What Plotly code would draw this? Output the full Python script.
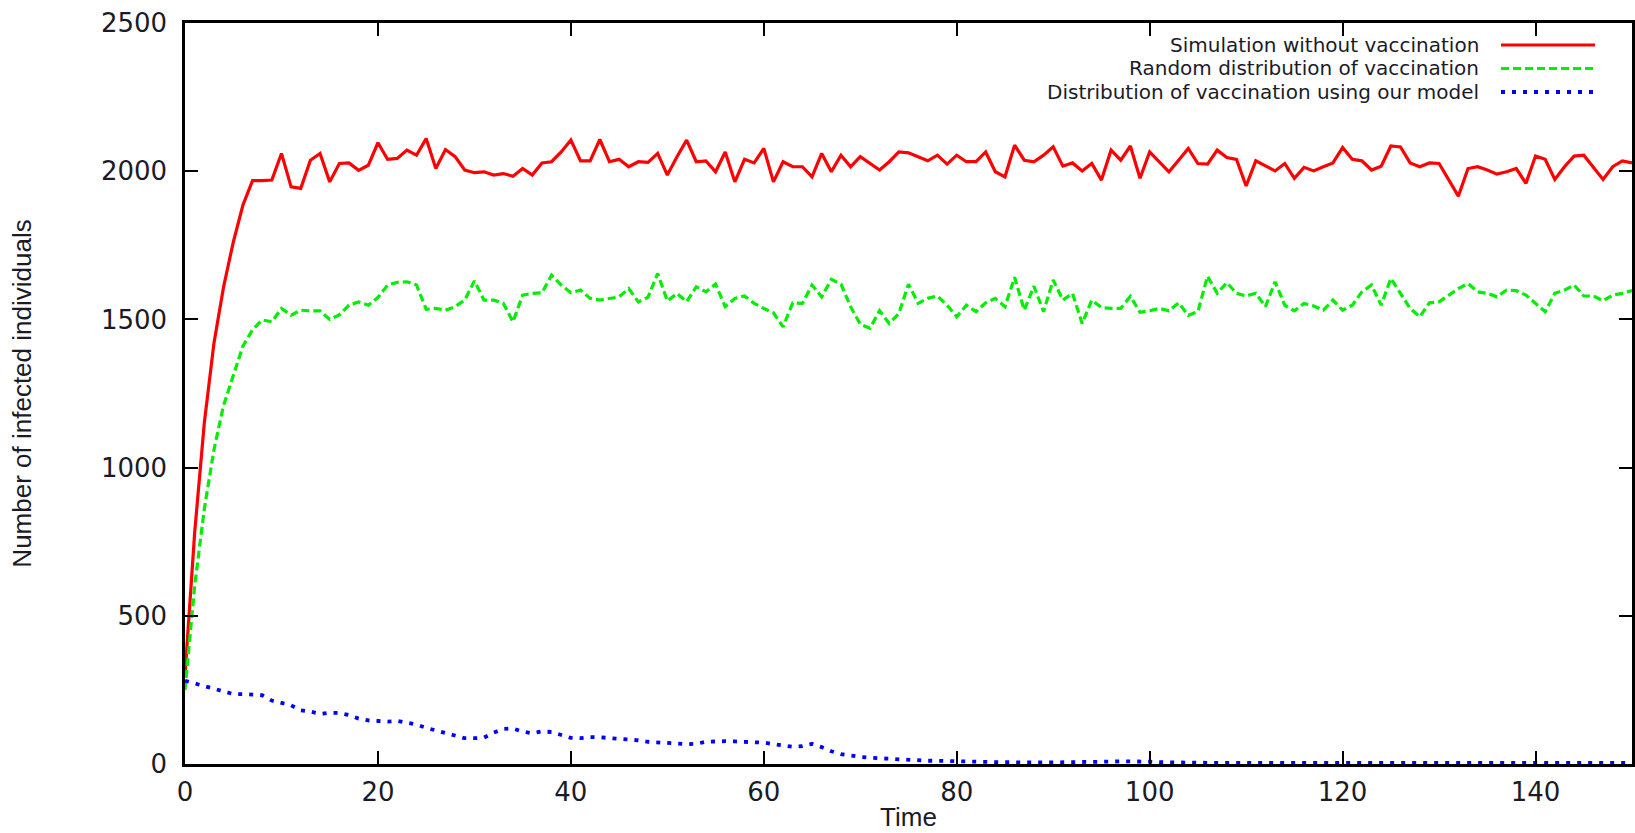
import plotly.graph_objects as go

# ---------------- data ----------------
time = list(range(0, 151))

no_vaccination = [
    300, 780, 1150, 1420, 1610, 1760, 1885, 1968, 1968, 1970,
    2060, 1947, 1942, 2037, 2060, 1964, 2026, 2028, 2003, 2020,
    2096, 2040, 2043, 2071, 2054, 2110, 2009, 2073, 2049, 2004,
    1995, 1998, 1987, 1992, 1983, 2009, 1987, 2028, 2032, 2065,
    2105, 2035, 2035, 2107, 2032, 2040, 2015, 2032, 2030, 2060,
    1987, 2049, 2105, 2032, 2035, 1998, 2065, 1964, 2040, 2028,
    2077, 1964, 2032, 2015, 2015, 1981, 2060, 1998, 2054, 2015,
    2049, 2026, 2004, 2032, 2065, 2062, 2049, 2035, 2054, 2024,
    2054, 2032, 2032, 2065, 1998, 1981, 2088, 2037, 2032, 2054,
    2082, 2017, 2028, 2001, 2026, 1970, 2071, 2037, 2085, 1976,
    2065, 2032, 1998, 2037, 2077, 2026, 2024, 2071, 2046, 2040,
    1950, 2035, 2017, 2001, 2026, 1976, 2013, 2001, 2015, 2028,
    2080, 2040, 2035, 2004, 2017, 2085, 2082, 2028, 2015, 2028,
    2026, 1970, 1916, 2009, 2015, 2004, 1990, 1998, 2009, 1959,
    2051, 2040, 1972, 2015, 2051, 2054, 2015, 1972, 2015, 2035,
    2028,
]

random_vaccination = [
    250, 600, 860, 1060, 1210, 1310, 1410, 1465, 1498, 1492,
    1537, 1514, 1531, 1529, 1529, 1500, 1515, 1548, 1559, 1548,
    1574, 1616, 1625, 1627, 1616, 1534, 1537, 1531, 1543, 1565,
    1630, 1565, 1565, 1554, 1492, 1582, 1588, 1590, 1649, 1616,
    1590, 1599, 1571, 1565, 1571, 1576, 1604, 1559, 1575, 1655,
    1562, 1588, 1560, 1610, 1593, 1619, 1543, 1571, 1579, 1554,
    1537, 1522, 1475, 1556, 1554, 1616, 1576, 1635, 1619, 1543,
    1484, 1470, 1529, 1486, 1520, 1619, 1554, 1571, 1579, 1548,
    1509, 1548, 1526, 1556, 1571, 1543, 1642, 1531, 1612, 1526,
    1633, 1565, 1588, 1486, 1565, 1540, 1537, 1537, 1578, 1524,
    1529, 1537, 1529, 1556, 1514, 1526, 1646, 1588, 1624, 1588,
    1579, 1588, 1543, 1627, 1548, 1529, 1554, 1545, 1531, 1565,
    1531, 1548, 1593, 1616, 1548, 1638, 1588, 1537, 1509, 1556,
    1559, 1582, 1604, 1621, 1593, 1588, 1576, 1599, 1597, 1582,
    1554, 1526, 1588, 1599, 1616, 1579, 1579, 1563, 1582, 1588,
    1597,
]

model_vaccination = [
    281, 272, 264, 255, 243, 236, 236, 235, 232, 214,
    205, 198, 181, 177, 169, 173, 172, 165, 153, 147,
    145, 143, 145, 138, 133, 122, 113, 104, 93, 87,
    87, 89, 106, 118, 120, 109, 104, 110, 108, 99,
    88, 87, 91, 90, 88, 85, 83, 80, 75, 74,
    70, 69, 67, 68, 75, 77, 77, 76, 75, 73,
    72, 67, 62, 58, 60, 68, 57, 43, 33, 27,
    24, 21, 19, 17, 15, 14, 12, 11, 11, 11,
    11, 9, 8, 7, 6, 5, 5, 5, 5, 5,
    5, 6, 6, 7, 7, 8, 8, 9, 9, 10,
    8, 6, 5, 5, 4, 4, 4, 4, 4, 4,
    4, 4, 4, 4, 4, 4, 4, 4, 4, 4,
    4, 4, 4, 4, 4, 4, 4, 4, 4, 4,
    4, 4, 4, 4, 4, 4, 4, 4, 4, 4,
    4, 4, 4, 4, 4, 4, 4, 4, 4, 4,
    4,
]

series_names = [
    "Simulation without vaccination",
    "Random distribution of vaccination",
    "Distribution of vaccination using our model",
]

x_ticks = [0, 20, 40, 60, 80, 100, 120, 140]
y_ticks = [0, 500, 1000, 1500, 2000, 2500]

# ---------------- styling ----------------
W, H = 1635, 833
ML, MR, MT, MB = 185, 3, 23, 69
PW, PH = W - ML - MR, H - MT - MB

colors = ["#ff0000", "#00ee00", "#0000ff"]
dashes = ["solid", "8px,4px", "4px,7px"]
widths = [3.2, 3.2, 3.8]
TXT = "#1b1b28"

fig = go.Figure()
for name, vals, c, d, w in zip(series_names,
                               [no_vaccination, random_vaccination, model_vaccination],
                               colors, dashes, widths):
    fig.add_trace(go.Scatter(x=time, y=vals, mode="lines", name=name,
                             line=dict(color=c, dash=d, width=w),
                             showlegend=False))


def px_x(p):
    return (p - ML) / PW


def px_y(p):
    return (H - MB - p) / PH


# gnuplot-style key: right-aligned text with the line sample on its right
legend_rows = [45, 68.5, 92]
for name, c, d, w, row in zip(series_names, colors, dashes, widths, legend_rows):
    fig.add_annotation(x=px_x(1480), y=px_y(row), xref="paper", yref="paper",
                       text=name, showarrow=False, xanchor="right", yanchor="middle",
                       borderpad=0,
                       font=dict(family="DejaVu Sans", size=20, color=TXT))
    fig.add_shape(type="line", xref="paper", yref="paper",
                  x0=px_x(1501), x1=px_x(1595), y0=px_y(row), y1=px_y(row),
                  line=dict(color=c, dash=d, width=w))

axis_common = dict(
    showline=True, linecolor="black", linewidth=2.5, mirror="ticks",
    ticks="inside", ticklen=13, tickwidth=2, tickcolor="black",
    showgrid=False, zeroline=False,
    tickfont=dict(family="DejaVu Sans", size=26, color=TXT),
)

fig.update_layout(
    width=W, height=H,
    margin=dict(l=ML, r=MR, t=MT, b=MB),
    paper_bgcolor="white", plot_bgcolor="white",
    xaxis=dict(range=[0, 150], tickvals=x_ticks, ticklabelstandoff=3,
               title=dict(text="Time", standoff=2,
                          font=dict(family="Liberation Sans", size=26, color=TXT)),
               automargin=False, **axis_common),
    yaxis=dict(range=[0, 2500], tickvals=y_ticks, ticklabelstandoff=10,
               title=dict(text="Number of infected individuals", standoff=62,
                          font=dict(family="Liberation Sans", size=26, color=TXT)),
               automargin=False, **axis_common),
)

fig.write_html("out.html")
